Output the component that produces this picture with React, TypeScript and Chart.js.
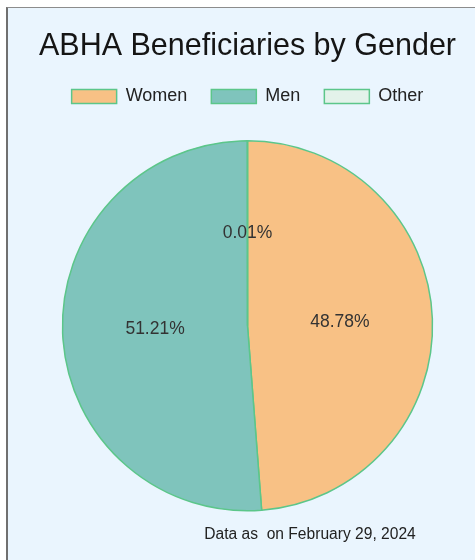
import React, { useEffect, useRef } from "react";
import { Chart, registerables } from "chart.js";

Chart.register(...registerables);

const categories = ["Women", "Men", "Other"];
const shares = [48.78, 51.21, 0.01];
const sliceColors = ["#f8c185", "#7fc4bc", "#e3f2ea"];
const sliceBorder = "#5cc68a";
const titleText = "ABHA Beneficiaries by Gender";
const footerText = "Data as  on February 29, 2024";

const FONT = "'Liberation Sans', Arial, sans-serif";

const labelPlugin = {
  id: "pctLabels",
  afterDatasetsDraw(chart: any) {
    const ctx = chart.ctx;
    const meta = chart.getDatasetMeta(0);
    ctx.save();
    ctx.font = `17.5px ${FONT}`;
    ctx.fillStyle = "#333333";
    ctx.textAlign = "center";
    ctx.textBaseline = "middle";
    meta.data.forEach((arc: any, i: number) => {
      const { startAngle, endAngle, outerRadius, x, y } = arc.getProps(
        ["startAngle", "endAngle", "outerRadius", "x", "y"],
        true
      );
      const mid = (startAngle + endAngle) / 2;
      const r = outerRadius / 2;
      ctx.fillText(shares[i].toFixed(2) + "%", x + Math.cos(mid) * r, y + Math.sin(mid) * r);
    });
    ctx.restore();
  },
  afterDraw(chart: any) {
    const ctx = chart.ctx;
    ctx.save();
    ctx.font = `15.6px ${FONT}`;
    ctx.fillStyle = "#222222";
    ctx.textAlign = "center";
    ctx.textBaseline = "middle";
    ctx.fillText(footerText, 310, 535);
    ctx.restore();
  },
};

export default function App() {
  const ref = useRef<HTMLCanvasElement>(null);
  useEffect(() => {
    if (!ref.current) return;
    const chart = new Chart(ref.current, {
      type: "pie",
      data: {
        labels: categories,
        datasets: [
          {
            data: shares,
            backgroundColor: sliceColors,
            borderColor: sliceBorder,
            borderWidth: 1.5,
            radius: 185,
            clip: false,
          } as any,
        ],
      },
      options: {
        responsive: false,
        animation: false,
        layout: { padding: { left: 20, right: 0, top: 0, bottom: 24 } },
        plugins: {
          title: {
            display: true,
            text: titleText,
            color: "#151515",
            font: { family: FONT, size: 30.5, weight: "normal", lineHeight: 1 },
            padding: { top: 31, bottom: 2 },
          },
          legend: {
            display: true,
            position: "top",
            labels: {
              boxWidth: 45,
              boxHeight: 14,
              padding: 24,
              color: "#222222",
              font: { family: FONT, size: 18 },
            },
          },
          tooltip: { enabled: false },
        },
      },
      plugins: [labelPlugin],
    });
    return () => chart.destroy();
  }, []);

  return (
    <div style={{ position: "fixed", left: 0, top: 0, width: 475, height: 560, background: "#ffffff" }}>
      <div
        style={{
          position: "absolute",
          left: 6,
          top: 7,
          width: 480,
          height: 560,
          boxSizing: "border-box",
          borderTop: "1px solid #8c8c8c",
          borderLeft: "2px solid #707070",
          background: "#eaf5fe",
        }}
      />
      <canvas ref={ref} width={475} height={560} style={{ position: "absolute", left: 0, top: 0 }} />
    </div>
  );
}
